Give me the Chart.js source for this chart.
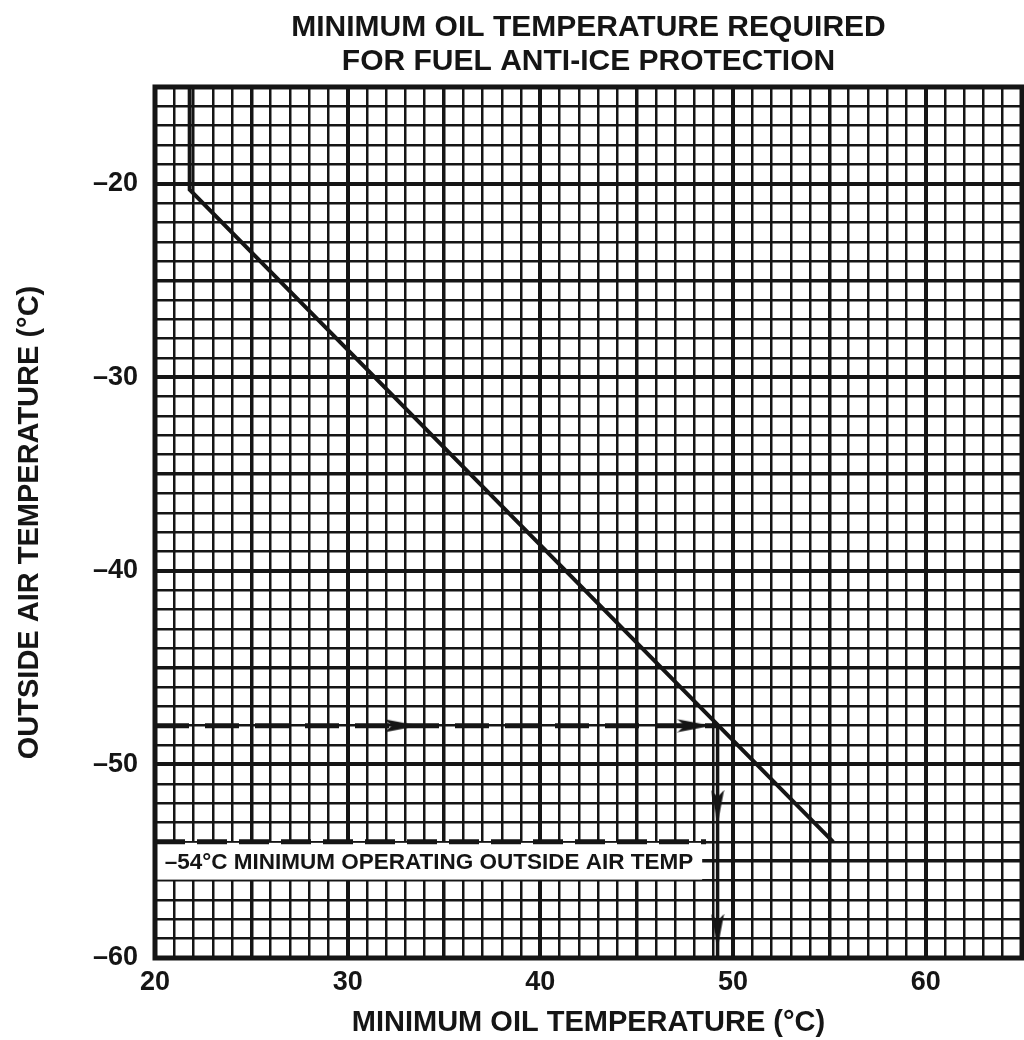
<!DOCTYPE html>
<html>
<head>
<meta charset="utf-8">
<script src="https://cdn.jsdelivr.net/npm/chart.js@4.4.1/dist/chart.umd.min.js"></script>
<style>
  html, body { margin: 0; padding: 0; background: #fff; overflow: hidden; }
  #wrap { width: 1024px; height: 1040px; position: relative; }
</style>
</head>
<body>
<div id="wrap"><canvas id="oilChart"></canvas></div>
<script>
// curve: minimum oil temp vs outside air temp
const oilTemp = [21.8, 21.8, 55.2];
const outsideAir = [-15, -20.3, -54];

// example read-off at -48 OAT
const exampleOat = -48;
const exampleOil = 49.2;
const minOperatingOat = -54;
const minOperatingEndOil = 48.6;

// arrow heads along the guide lines (rotation in degrees, 0 = pointing right)
const arrowX = [32.8, 48.0, 49.2, 49.2];
const arrowY = [-48, -48, -52.2, -58.6];
const arrowRot = [0, 0, 90, 90];

// tick labels
const xTickLabels = [20, 30, 40, 50, 60];
const yTickLabels = [-20, -30, -40, -50, -60];

const INK = "#151515";
const FONT = "'Liberation Sans', Arial, sans-serif";

// elongated arrow head used as point style
const arrowImg = document.createElement("canvas");
arrowImg.width = 34;
arrowImg.height = 14;
(function () {
  const c = arrowImg.getContext("2d");
  c.fillStyle = INK;
  c.beginPath();
  c.moveTo(34, 7);
  c.lineTo(0, 0.5);
  c.lineTo(7, 7);
  c.lineTo(0, 13.5);
  c.closePath();
  c.fill();
})();

function gridWidth(v) {
  if (v % 10 === 0) return 4;
  if (v % 5 === 0) return 3.5;
  return 2.5;
}

const labelBox = {
  id: "labelBox",
  beforeDatasetsDraw(chart) {
    const { ctx, scales } = chart;
    const x = scales.x, y = scales.y;
    const x0 = x.getPixelForValue(20.1), x1 = x.getPixelForValue(48.4);
    const y0 = y.getPixelForValue(-54.05), y1 = y.getPixelForValue(-55.95);
    ctx.save();
    ctx.fillStyle = "#fff";
    ctx.fillRect(x0, y0, x1 - x0, y1 - y0);
    ctx.fillStyle = INK;
    ctx.font = "bold 22.5px " + FONT;
    ctx.textBaseline = "middle";
    ctx.textAlign = "left";
    ctx.fillText("\u201354\u00B0C MINIMUM OPERATING OUTSIDE AIR TEMP",
      x.getPixelForValue(20.5), y.getPixelForValue(-55.1));
    ctx.restore();
  },
  afterDatasetsDraw(chart) {
    const { ctx, chartArea } = chart;
    ctx.save();
    ctx.strokeStyle = INK;
    ctx.lineWidth = 5;
    ctx.strokeRect(chartArea.left, chartArea.top,
      chartArea.right - chartArea.left, chartArea.bottom - chartArea.top);
    ctx.restore();
  }
};

const ctx = document.getElementById("oilChart").getContext("2d");
const oilChart = new Chart(ctx, {
  type: "scatter",
  data: {
    datasets: [
      {
        data: oilTemp.map((v, i) => ({ x: v, y: outsideAir[i] })),
        showLine: true,
        borderColor: INK,
        borderWidth: 4,
        pointRadius: 0,
      },
      {
        data: [{ x: 20, y: exampleOat }, { x: exampleOil, y: exampleOat }],
        showLine: true,
        borderColor: INK,
        borderWidth: 5,
        borderDash: [34, 16],
        pointRadius: 0,
      },
      {
        data: [{ x: exampleOil, y: exampleOat }, { x: exampleOil, y: -60 }],
        showLine: true,
        borderColor: INK,
        borderWidth: 3.5,
        pointRadius: 0,
      },
      {
        data: [{ x: 20, y: minOperatingOat }, { x: minOperatingEndOil, y: minOperatingOat }],
        showLine: true,
        borderColor: INK,
        borderWidth: 5,
        borderDash: [30, 12],
        pointRadius: 0,
      },
      {
        data: arrowX.map((v, i) => ({ x: v, y: arrowY[i] })),
        pointStyle: arrowImg,
        rotation: arrowRot,
        pointRadius: 12,
      },
    ],
  },
  options: {
    responsive: true,
    maintainAspectRatio: false,
    animation: false,
    devicePixelRatio: 1,
    layout: { autoPadding: false, padding: { right: 2, left: 0, top: 0, bottom: 0 } },
    plugins: {
      legend: { display: false },
      tooltip: { enabled: false },
      title: {
        display: true,
        fullSize: false,
        text: ["MINIMUM OIL TEMPERATURE REQUIRED", "FOR FUEL ANTI-ICE PROTECTION"],
        color: INK,
        font: { family: FONT, size: 30, weight: "bold", lineHeight: 1.133 },
        padding: { top: 11, bottom: 8 },
      },
    },
    scales: {
      x: {
        type: "linear",
        min: 20,
        max: 65,
        afterFit: (s) => { s.height = 82; s.paddingRight = 0; s.paddingLeft = 0; },
        border: { display: true, color: INK, width: 4 },
        grid: {
          color: INK,
          drawTicks: false,
          lineWidth: (c) => gridWidth(c.tick.value),
        },
        ticks: {
          stepSize: 1,
          autoSkip: false,
          maxRotation: 0,
          padding: 8,
          color: INK,
          font: { family: FONT, size: 27, weight: "bold" },
          callback: (v) => (xTickLabels.includes(v) ? String(v) : ""),
        },
        title: {
          display: true,
          text: "MINIMUM OIL TEMPERATURE (\u00B0C)",
          color: INK,
          font: { family: FONT, size: 29, weight: "bold" },
          padding: { top: 0, bottom: 0 },
        },
      },
      y: {
        type: "linear",
        min: -60,
        max: -15,
        afterFit: (s) => { s.width = 155; s.paddingTop = 0; s.paddingBottom = 0; },
        border: { display: true, color: INK, width: 4 },
        grid: {
          color: INK,
          drawTicks: false,
          lineWidth: (c) => gridWidth(c.tick.value),
        },
        ticks: {
          stepSize: 1,
          autoSkip: false,
          padding: 17,
          color: INK,
          font: { family: FONT, size: 27, weight: "bold" },
          callback: (v) => (yTickLabels.includes(v) ? "\u2013" + Math.abs(v) : ""),
        },
        title: {
          display: true,
          text: "OUTSIDE AIR TEMPERATURE (\u00B0C)",
          color: INK,
          font: { family: FONT, size: 29, weight: "bold" },
          padding: { top: 13, bottom: 0 },
        },
      },
    },
  },
  plugins: [labelBox],
});
</script>
</body>
</html>
